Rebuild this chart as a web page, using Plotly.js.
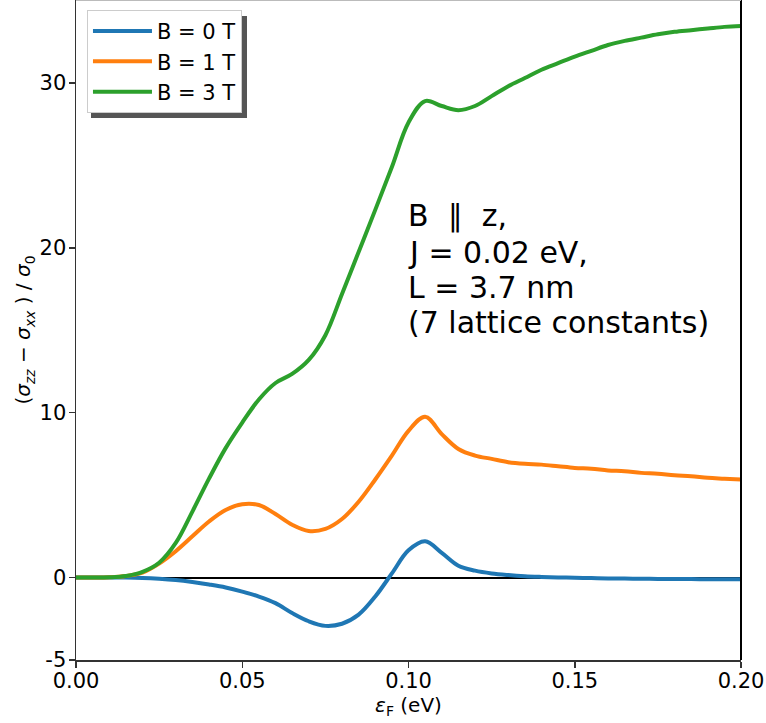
<!DOCTYPE html>
<html>
<head>
<meta charset="utf-8">
<script src="https://cdn.plot.ly/plotly-3.0.1.min.js"></script>
<style>html,body{margin:0;padding:0;background:#fff;}#chart{width:766px;height:723px;}</style>
</head>
<body>
<div id="chart"></div>
<script>
// Fermi energy grid (eV)
const energy = [0.000,0.005,0.010,0.015,0.020,0.025,0.030,0.035,0.040,0.045,
                0.050,0.055,0.060,0.065,0.070,0.075,0.080,0.085,0.090,0.095,
                0.100,0.105,0.110,0.115,0.120,0.125,0.130,0.135,0.140,0.145,
                0.150,0.155,0.160,0.165,0.170,0.175,0.180,0.185,0.190,0.195,0.200];

const b0 = [0,0,0,0,-0.02,-0.07,-0.15,-0.27,-0.42,-0.6,
            -0.85,-1.15,-1.55,-2.15,-2.65,-2.93,-2.8,-2.25,-1.15,0.25,
            1.65,2.2,1.5,0.72,0.42,0.25,0.15,0.08,0.04,0.01,
            -0.01,-0.03,-0.05,-0.06,-0.07,-0.08,-0.09,-0.09,-0.1,-0.1,-0.1];

const b1 = [0,0,0.02,0.1,0.3,0.85,1.6,2.5,3.4,4.1,
            4.45,4.4,3.85,3.2,2.82,2.95,3.55,4.6,5.95,7.4,
            8.9,9.75,8.7,7.8,7.4,7.2,7.0,6.9,6.85,6.75,
            6.65,6.6,6.5,6.45,6.35,6.3,6.2,6.15,6.05,6.0,5.95];

const b3 = [0,0,0.02,0.1,0.35,0.9,2.1,4.0,6.0,7.85,
            9.4,10.8,11.8,12.35,13.2,14.7,17.2,19.75,22.3,24.9,
            27.6,28.9,28.6,28.35,28.6,29.2,29.8,30.3,30.8,31.2,
            31.6,31.95,32.3,32.55,32.75,32.95,33.1,33.2,33.3,33.4,33.45];

const seriesNames = ["B = 0 T", "B = 1 T", "B = 3 T"];
const colors = ["#1f77b4", "#ff7f0e", "#2ca02c"];
const yTickVals = [-5, 0, 10, 20, 30];
const yTickText = ["-5", "0", "10", "20", "30"];
const noteLines = ["B  \u2225  z,", "J = 0.02 eV,", "L = 3.7 nm", "(7 lattice constants)"];

const FONT = "DejaVu Sans, sans-serif";
const ys = [b0, b1, b3];
const traces = ys.map((y, i) => ({
  x: energy, y: y, type: "scatter", mode: "lines", name: seriesNames[i],
  line: {color: colors[i], width: 4, shape: "spline", smoothing: 1.0}
}));

const noteY = [0.673, 0.618, 0.564, 0.511];
const annotations = noteLines.map((t, i) => ({
  text: t, xref: "paper", yref: "paper", x: (406-76)/665, y: noteY[i],
  xanchor: "left", yanchor: "middle", showarrow: false,
  font: {family: FONT, size: 30, color: "#000"}
}));

const layout = {
  width: 766, height: 723,
  margin: {l: 76, r: 25, t: 0, b: 63, pad: 0},
  paper_bgcolor: "#fff", plot_bgcolor: "#fff",
  font: {family: FONT, size: 21, color: "#000"},
  showlegend: true,
  legend: {
    x: 0.0165, y: 0.985, xanchor: "left", yanchor: "top",
    bgcolor: "#fff", bordercolor: "#cccccc", borderwidth: 1,
    font: {family: FONT, size: 21, color: "#000"},
    itemwidth: 59, tracegroupgap: 0
  },
  xaxis: {
    range: [0, 0.2], tickvals: [0, 0.05, 0.1, 0.15, 0.2], tickformat: ".2f",
    showgrid: false, zeroline: false,
    showline: true, linecolor: "#333", linewidth: 1.5,
    ticks: "outside", ticklen: 6, tickwidth: 1.5, tickcolor: "#333",
    ticklabelstandoff: -5,
    tickfont: {family: FONT, size: 21, color: "#000"},
    title: {text: "<i>\u03b5</i><sub>F</sub> (eV)", font: {family: FONT, size: 20, color: "#000"}, standoff: 2}
  },
  yaxis: {
    range: [-5, 35.03], tickvals: yTickVals, ticktext: yTickText,
    showgrid: false, zeroline: true, zerolinecolor: "#000", zerolinewidth: 2,
    showline: true, linecolor: "#333", linewidth: 1.5,
    ticks: "outside", ticklen: 6, tickwidth: 1.5, tickcolor: "#333",
    ticklabelstandoff: -2,
    tickfont: {family: FONT, size: 21, color: "#000"},
    title: {text: "(<i>\u03c3</i><sub><i>zz</i></sub> \u2212 <i>\u03c3</i><sub><i>xx</i></sub> ) / <i>\u03c3</i><sub>0</sub>",
            font: {family: FONT, size: 20, color: "#000"}, standoff: 3}
  },
  shapes: [
    {type: "line", xref: "paper", yref: "paper", x0: 1, x1: 1, y0: 0, y1: 1, line: {color: "#000", width: 2}},
    {type: "line", xref: "paper", yref: "paper", x0: 0, x1: 1, y0: 1, y1: 1, line: {color: "#bbb", width: 2}},
    {type: "rect", xref: "paper", yref: "paper", layer: "below",
     x0: (91-76)/665, x1: (247-76)/665, y0: 1-118/660, y1: 1-16/660,
     fillcolor: "#555", line: {width: 0}}
  ],
  annotations: annotations
};

Plotly.newPlot("chart", traces, layout, {displayModeBar: false, staticPlot: true});
</script>
</body>
</html>
